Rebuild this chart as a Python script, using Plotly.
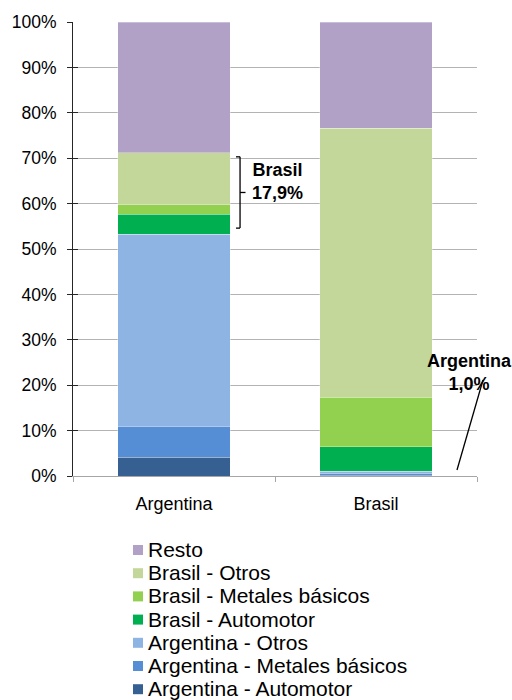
import plotly.graph_objects as go
import numpy as np

paises = ["Argentina", "Brasil"]

series = [
    "Argentina - Automotor",
    "Argentina - Metales básicos",
    "Argentina - Otros",
    "Brasil - Automotor",
    "Brasil - Metales básicos",
    "Brasil - Otros",
    "Resto",
]

arg_automotor = [4.1, 0.2]
arg_metales = [6.9, 0.3]
arg_otros = [42.3, 0.5]
bra_automotor = [4.4, 5.4]
bra_metales = [2.0, 11.0]
bra_otros = [11.5, 59.2]
resto = [28.8, 23.4]

colores = ["#376092", "#558ED5", "#8DB4E2", "#00B050", "#92D050", "#C4D79B", "#B2A1C7"]

valores = [arg_automotor, arg_metales, arg_otros, bra_automotor, bra_metales, bra_otros, resto]

brasil_share_arg = "17,9%"
argentina_share_bra = "1,0%"
y_ticks = [0, 10, 20, 30, 40, 50, 60, 70, 80, 90, 100]

FONT = "Liberation Sans, Arial, sans-serif"
W, H = 512, 700
PL, PR, PT, PB = 73, 477, 22, 476  # plot area edges in pixels


def px_x(p):
    return (p - PL) / (PR - PL)


def px_y(p):
    return (PB - p) / (PB - PT)


fig = go.Figure()
for nombre, vals, col in zip(series, valores, colores):
    fig.add_trace(go.Bar(
        x=paises, y=vals, name=nombre,
        marker=dict(color=col, line=dict(color="rgba(255,255,255,0.5)", width=0.6)),
        width=0.555,
    ))

# empty trace that carries the inner half of the crossing y ticks
fig.add_trace(go.Scatter(x=paises, y=[None, None], yaxis="y2", showlegend=False,
                         hoverinfo="skip", mode="markers"))

# brace spanning the Brasil segments of the Argentina bar
cum = np.cumsum([v[0] for v in valores])
y_lo = cum[2] + 1.3
y_hi = cum[5] - 0.9
y_mid = (y_lo + y_hi) / 2
bx = 0.327
hook = 0.02
line_k = dict(color="black", width=1.3)
fig.add_shape(type="line", x0=bx - hook, x1=bx, y0=y_hi, y1=y_hi, xref="x", yref="y", line=line_k)
fig.add_shape(type="line", x0=bx, x1=bx, y0=y_hi, y1=y_lo, xref="x", yref="y", line=line_k)
fig.add_shape(type="line", x0=bx - hook, x1=bx, y0=y_lo, y1=y_lo, xref="x", yref="y", line=line_k)
fig.add_shape(type="line", x0=bx, x1=bx + 0.027, y0=y_mid, y1=y_mid, xref="x", yref="y", line=line_k)

fig.add_annotation(x=px_x(277), y=px_y(182), xref="paper", yref="paper",
                   xanchor="center", yanchor="middle",
                   text="<b>Brasil<br>" + brasil_share_arg + "</b>", showarrow=False,
                   font=dict(family=FONT, size=18, color="black"), align="center")

# leader line for the Argentina share of the Brasil bar (reaches past the plot edge)
fig.add_shape(type="line", x0=px_x(457), y0=px_y(470), x1=px_x(483), y1=px_y(380),
              xref="paper", yref="paper", line=dict(color="black", width=1.3))
fig.add_annotation(x=px_x(469), y=px_y(372), xref="paper", yref="paper",
                   xanchor="center", yanchor="middle",
                   text="<b>Argentina<br>" + argentina_share_bra + "</b>", showarrow=False,
                   font=dict(family=FONT, size=18, color="black"), align="center")

# legend: swatch + label per series, listed from the top segment down
leg_top, leg_step = 550, 23.2
for i, (nombre, col) in enumerate(zip(series[::-1], colores[::-1])):
    cy = leg_top + i * leg_step
    fig.add_shape(type="rect", xref="paper", yref="paper",
                  x0=px_x(133), x1=px_x(143), y0=px_y(cy + 5), y1=px_y(cy - 5),
                  fillcolor=col, line=dict(width=0))
    fig.add_annotation(x=px_x(146), y=px_y(cy - 0.5), xref="paper", yref="paper",
                       xanchor="left", yanchor="middle", text=nombre, showarrow=False,
                       font=dict(family=FONT, size=21, color="black"))

fig.update_layout(
    barmode="stack",
    width=W, height=H,
    margin=dict(l=PL, r=W - PR, t=PT, b=H - PB, autoexpand=False),
    paper_bgcolor="white", plot_bgcolor="white",
    font=dict(family=FONT, size=18, color="black"),
    showlegend=False,
    xaxis=dict(
        range=[-0.5, 1.5],
        showline=True, linecolor="#A6A6A6", linewidth=1.3,
        ticks="outside", ticklen=5, tickcolor="#A6A6A6", tickwidth=1.3,
        tickson="boundaries", ticklabelstandoff=11,
        tickfont=dict(family=FONT, size=18, color="black"),
        showgrid=False, zeroline=False,
    ),
    yaxis=dict(
        range=[0, 100],
        tickvals=y_ticks,
        ticktext=[f"{v}%" for v in y_ticks],
        showline=True, linecolor="#262626", linewidth=1,
        ticks="outside", ticklen=5, tickcolor="#262626",
        ticklabelstandoff=7,
        showgrid=True, gridcolor="#B3B3B3", gridwidth=1,
        zeroline=False,
        tickfont=dict(family=FONT, size=17.5, color="black"),
    ),
    yaxis2=dict(
        range=[0, 100], overlaying="y", side="left",
        tickvals=y_ticks, showticklabels=False,
        ticks="inside", ticklen=5, tickcolor="#262626",
        showgrid=False, zeroline=False, showline=False,
    ),
)

fig.write_html("out.html")
